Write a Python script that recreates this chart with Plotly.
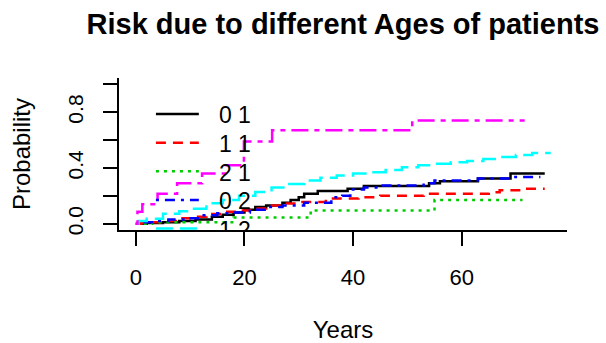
import plotly.graph_objects as go

# ---- data ----
group_labels = ["0 1", "1 1", "2 1", "0 2", "1 2", "2 2"]

t_01 = [0, 2, 5, 8, 11, 14, 16, 18, 20, 22, 24, 27, 28.5, 30, 31, 33.5, 39, 42, 54, 56, 63, 69, 75.3]
p_01 = [0, 0.005, 0.01, 0.02, 0.03, 0.05, 0.065, 0.08, 0.1, 0.12, 0.13, 0.15, 0.17, 0.19, 0.215, 0.235, 0.25, 0.27, 0.29, 0.305, 0.325, 0.36, 0.36]

t_11 = [0, 1, 3, 6, 8, 10, 13, 16, 19, 21, 24, 27, 30, 35, 41, 45, 53, 65, 67, 71.5, 75.3]
p_11 = [0, 0.005, 0.01, 0.02, 0.04, 0.05, 0.07, 0.085, 0.095, 0.11, 0.13, 0.145, 0.155, 0.18, 0.19, 0.2, 0.215, 0.225, 0.24, 0.25, 0.25]

t_21 = [0, 3, 18, 32.2, 55, 71.2]
p_21 = [0, 0.01, 0.045, 0.095, 0.17, 0.17]

t_02 = [0, 1, 3, 6, 9, 12, 15, 18, 21, 24, 27, 31, 36, 38, 39.5, 42, 45, 53, 55, 63, 69, 74.5]
p_02 = [0, 0.01, 0.02, 0.03, 0.04, 0.06, 0.075, 0.08, 0.1, 0.12, 0.13, 0.15, 0.19, 0.2, 0.245, 0.26, 0.275, 0.29, 0.31, 0.325, 0.335, 0.335]

t_12 = [0, 0.5, 2, 5, 8, 10, 13, 16, 19, 22, 25, 28, 31, 34, 37, 40, 43, 46, 49, 52, 55, 58, 61, 64, 67, 70, 73, 76.4]
p_12 = [0, 0.02, 0.036, 0.072, 0.09, 0.108, 0.146, 0.17, 0.2, 0.228, 0.26, 0.285, 0.31, 0.33, 0.345, 0.36, 0.37, 0.385, 0.405, 0.42, 0.43, 0.44, 0.45, 0.465, 0.478, 0.492, 0.507, 0.507]

t_22 = [0, 0.3, 1.2, 4.0, 7.6, 12.2, 16.5, 19.9, 25.1, 50.9, 71.6]
p_22 = [0, 0.085, 0.14, 0.215, 0.29, 0.36, 0.42, 0.59, 0.67, 0.74, 0.74]

x_ticks = [0, 20, 40, 60]
y_ticks = [0, 0.2, 0.4, 0.6, 0.8, 1.0]
y_ticktext = ["0.0", "", "0.4", "", "0.8", ""]

series_t = [t_01, t_11, t_21, t_02, t_12, t_22]
series_p = [p_01, p_11, p_21, p_02, p_12, p_22]

# ---- styles ----
colors = ["#000000", "#FF0000", "#00CD00", "#0000FF", "#00FFFF", "#FF00FF"]
dashes = ["solid", "10px,7px", "3px,5px", "3px,6px,10px,6px", "17px,7px", "5px,6px,17px,6px"]
LW = 2.5
FONT = "Liberation Sans, Arial, sans-serif"
Y_RANGE = [-0.045, 1.045]

fig = go.Figure()
for lab, tt, pp, c, d in zip(group_labels, series_t, series_p, colors, dashes):
    fig.add_trace(go.Scatter(x=tt, y=pp, mode="lines", name=lab,
                             line=dict(color=c, width=LW, dash=d, shape="hv"),
                             showlegend=False))

# legend drawn inside the plot region (clipped at the x axis like the original)
leg_x0, leg_x1, leg_tx = 3.7, 11.6, 15.3
leg_y0, leg_dy = 0.786, 0.205
for i, (lab, c, d) in enumerate(zip(group_labels, colors, dashes)):
    yy = leg_y0 - i * leg_dy
    if yy < Y_RANGE[0] - 0.1:   # entry falls fully outside the plot region
        continue
    fig.add_trace(go.Scatter(x=[leg_x0, leg_x1], y=[yy, yy], mode="lines",
                             line=dict(color=c, width=LW, dash=d),
                             showlegend=False, hoverinfo="skip"))
    fig.add_trace(go.Scatter(x=[leg_tx], y=[yy - 0.025], mode="text", text=[lab],
                             textposition="middle right", cliponaxis=True,
                             textfont=dict(family=FONT, size=23, color="black"),
                             showlegend=False, hoverinfo="skip"))

fig.update_layout(
    width=606, height=343,
    margin=dict(l=119, r=39, t=78, b=113),
    paper_bgcolor="white", plot_bgcolor="white",
    font=dict(family=FONT, color="black"),
    title=dict(text="<b>Risk due to different Ages of patients</b>",
               x=0.5, xref="paper", xanchor="center",
               y=1 - 24 / 343, yref="container", yanchor="middle",
               font=dict(family=FONT, size=29, color="black")),
    showlegend=False,
)
fig.update_xaxes(range=[-3.1, 79.4], tickvals=x_ticks, ticktext=[str(v) for v in x_ticks],
                 automargin=False,
                 ticks="outside", ticklen=14, tickwidth=2, tickcolor="black",
                 showline=True, linewidth=2, linecolor="black",
                 showgrid=False, zeroline=False, ticklabelstandoff=13,
                 tickfont=dict(family=FONT, size=22, color="black"),
                 title=dict(text="Years", standoff=33,
                            font=dict(family=FONT, size=24, color="black")))
fig.update_yaxes(range=Y_RANGE, tickvals=y_ticks, ticktext=y_ticktext,
                 tickangle=-90, automargin=False,
                 ticks="outside", ticklen=14, tickwidth=2, tickcolor="black",
                 showline=True, linewidth=2, linecolor="black",
                 showgrid=False, zeroline=False, ticklabelstandoff=12,
                 tickfont=dict(family=FONT, size=21, color="black"),
                 title=dict(text="Probability", standoff=26,
                            font=dict(family=FONT, size=24, color="black")))

fig.write_html("out.html", config={"displayModeBar": False},
               post_script="document.body.style.margin='0px';document.body.style.overflow='hidden';")
